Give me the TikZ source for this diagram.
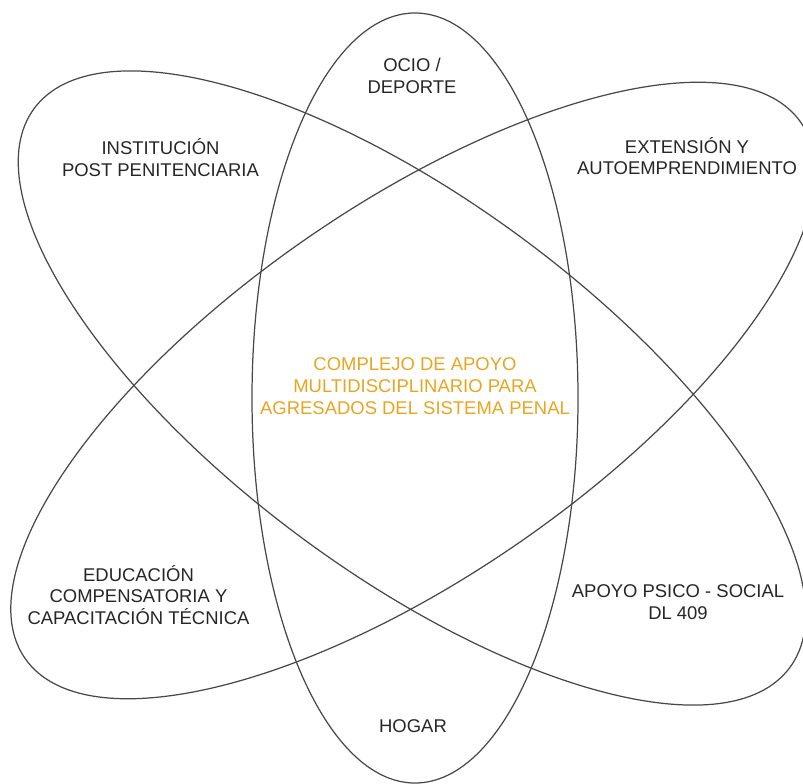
\documentclass[tikz,border=0pt]{standalone}
\usepackage{fontspec}
\setmainfont{Liberation Sans}
\definecolor{orbitgray}{RGB}{72,72,72}
\definecolor{coreorange}{RGB}{232,165,32}
\tikzset{orbit/.style={draw=orbitgray,line width=0.7pt},
         area/.style={align=center,font=\fontsize{10.5}{12.4}\selectfont,text=black!85}}

\begin{document}
\begin{tikzpicture}
  \useasboundingbox (0,0) rectangle (16.06,15.66);
  % the three orbits
  \draw[orbit] (8.30,7.70) ellipse [x radius=3.26, y radius=7.70];
  \draw[orbit] (8.24,7.90) ellipse [x radius=9.40, y radius=3.72, rotate=-36.5];
  \draw[orbit] (8.26,7.85) ellipse [x radius=9.43, y radius=3.71, rotate=34.6];
  % labels
  \node[area,text=coreorange] (core) at (8.30,7.94) {COMPLEJO DE APOYO\\MULTIDISCIPLINARIO PARA\\AGRESADOS DEL SISTEMA PENAL};
  \node[area] (ocio) at (8.24,14.14) {OCIO /\\DEPORTE};
  \node[area] (inst) at (3.21,12.51) {INSTITUCIÓN\\POST PENITENCIARIA};
  \node[area] (ext) at (13.74,12.54) {EXTENSIÓN Y\\AUTOEMPRENDIMIENTO};
  \node[area] (edu) at (2.77,3.76) {EDUCACIÓN\\COMPENSATORIA Y\\CAPACITACIÓN TÉCNICA};
  \node[area] (psico) at (13.56,3.61) {APOYO PSICO - SOCIAL\\DL 409};
  \node[area] (hogar) at (8.26,1.14) {HOGAR};
\end{tikzpicture}
\end{document}
